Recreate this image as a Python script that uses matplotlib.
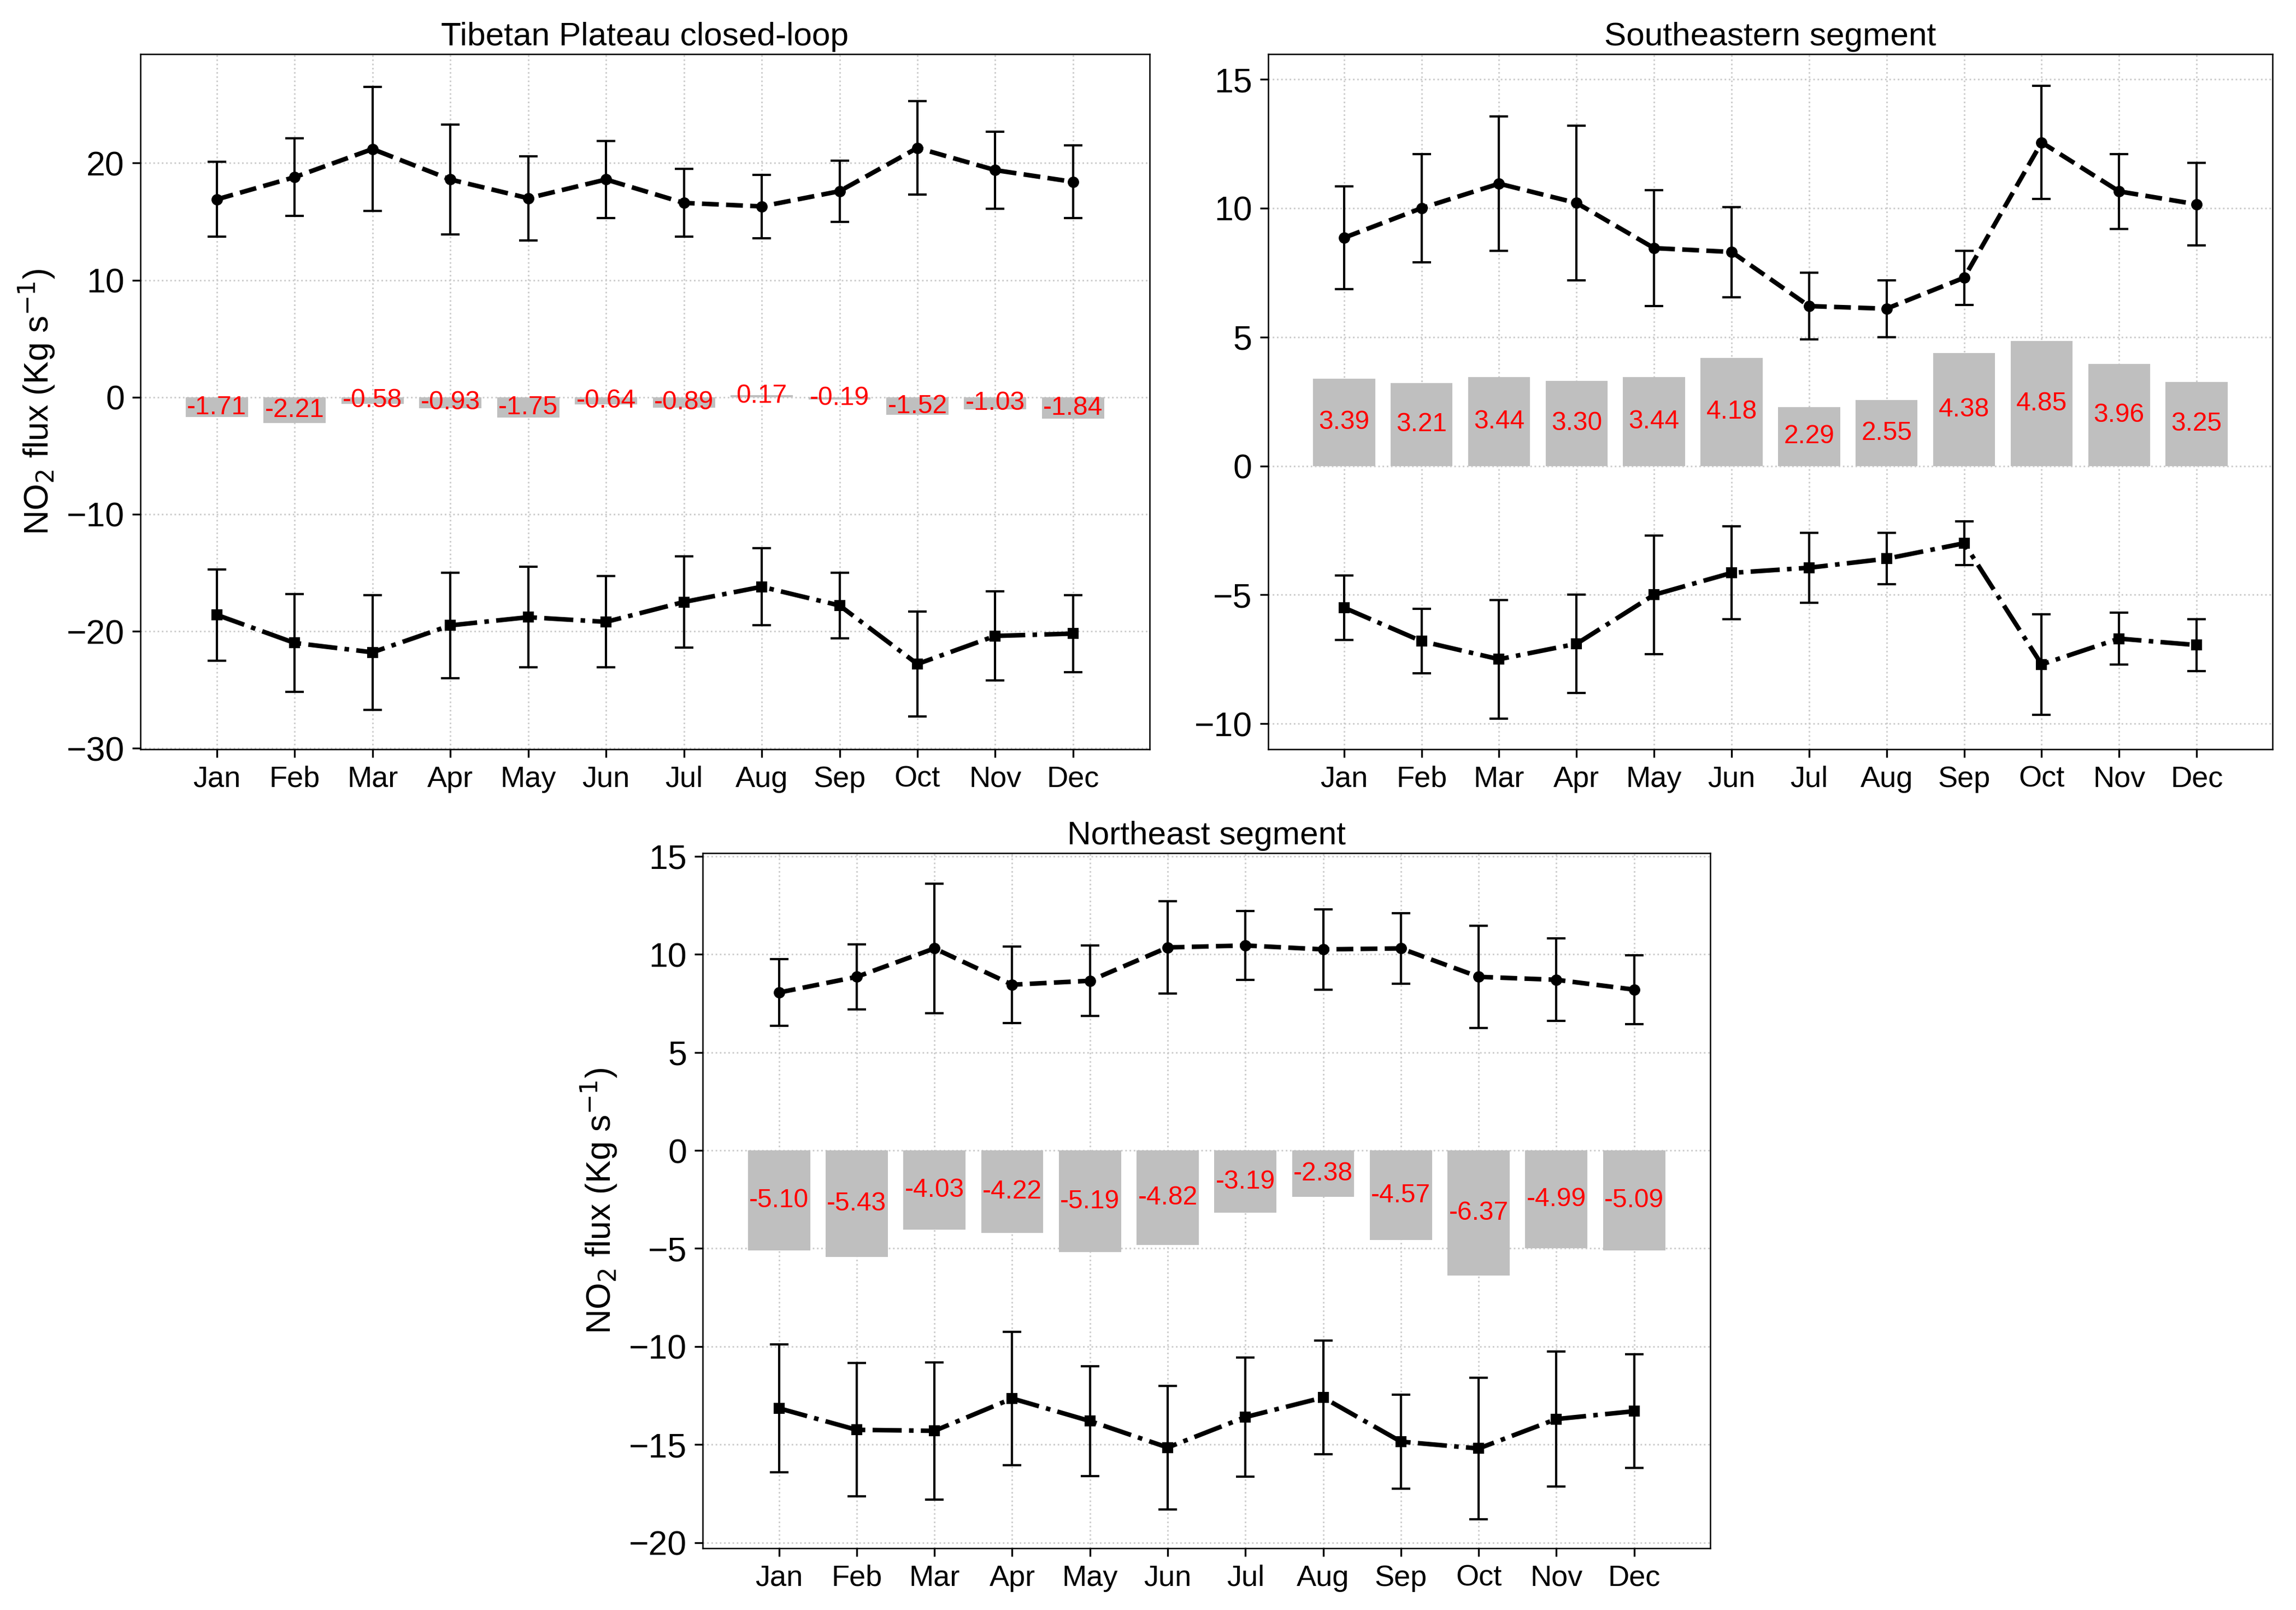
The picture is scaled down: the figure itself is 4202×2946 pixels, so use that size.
import numpy as np
import matplotlib.pyplot as plt

plt.rcParams['font.family'] = ['Liberation Sans', 'DejaVu Sans']

months = ['Jan', 'Feb', 'Mar', 'Apr', 'May', 'Jun', 'Jul', 'Aug', 'Sep', 'Oct', 'Nov', 'Dec']

# Tibetan Plateau closed-loop
tp_in = [16.9, 18.8, 21.2, 18.6, 17.0, 18.6, 16.6, 16.3, 17.6, 21.3, 19.4, 18.4]
tp_in_err = [3.2, 3.3, 5.3, 4.7, 3.6, 3.3, 2.9, 2.7, 2.6, 4.0, 3.3, 3.1]
tp_out = [-18.6, -21.0, -21.8, -19.5, -18.8, -19.2, -17.5, -16.2, -17.8, -22.8, -20.4, -20.2]
tp_out_err = [3.9, 4.2, 4.9, 4.5, 4.3, 3.9, 3.9, 3.3, 2.8, 4.5, 3.8, 3.3]
tp_net = [-1.71, -2.21, -0.58, -0.93, -1.75, -0.64, -0.89, 0.17, -0.19, -1.52, -1.03, -1.84]

# Southeastern segment
se_in = [8.85, 10.0, 10.95, 10.2, 8.45, 8.3, 6.2, 6.1, 7.3, 12.55, 10.65, 10.15]
se_in_err = [2.0, 2.1, 2.6, 3.0, 2.25, 1.75, 1.3, 1.1, 1.05, 2.2, 1.45, 1.6]
se_out = [-5.5, -6.8, -7.5, -6.9, -5.0, -4.15, -3.95, -3.6, -3.0, -7.7, -6.7, -6.95]
se_out_err = [1.25, 1.25, 2.3, 1.9, 2.3, 1.8, 1.35, 1.0, 0.85, 1.95, 1.0, 1.0]
se_net = [3.39, 3.21, 3.44, 3.30, 3.44, 4.18, 2.29, 2.55, 4.38, 4.85, 3.96, 3.25]

# Northeast segment
ne_in = [8.05, 8.85, 10.3, 8.45, 8.65, 10.35, 10.45, 10.25, 10.3, 8.85, 8.7, 8.2]
ne_in_err = [1.7, 1.65, 3.3, 1.95, 1.8, 2.35, 1.75, 2.05, 1.8, 2.6, 2.1, 1.75]
ne_out = [-13.15, -14.25, -14.3, -12.65, -13.8, -15.15, -13.6, -12.6, -14.85, -15.2, -13.7, -13.3]
ne_out_err = [3.25, 3.4, 3.5, 3.4, 2.8, 3.15, 3.05, 2.9, 2.4, 3.6, 3.45, 2.9]
ne_net = [-5.10, -5.43, -4.03, -4.22, -5.19, -4.82, -3.19, -2.38, -4.57, -6.37, -4.99, -5.09]


def draw(ax, title, fin, fin_err, fout, fout_err, net, ylim, yticks, ylabel):
    x = np.arange(1, 13)
    ax.grid(True, color='#cccccc', linestyle=':', linewidth=0.7, zorder=0)
    ax.bar(x, net, width=0.8, color='#bfbfbf', zorder=2)
    for xi, v in zip(x, net):
        ax.text(xi, v / 2, f'{v:.2f}', color='red', ha='center', va='center',
                fontsize=11.5, zorder=5)
    ax.errorbar(x, fin, yerr=fin_err, color='black', ls='--', lw=2, marker='o',
                ms=4, capsize=4, elinewidth=1, capthick=1, zorder=4)
    ax.errorbar(x, fout, yerr=fout_err, color='black', ls='-.', lw=2, marker='s',
                ms=4, capsize=4, elinewidth=1, capthick=1, zorder=4)
    ax.set_xlim(0.02, 12.98)
    ax.set_ylim(*ylim)
    ax.set_xticks(x)
    ax.set_xticklabels(months, fontsize=13)
    ax.set_yticks(yticks)
    ax.tick_params(axis='y', labelsize=15)
    ax.set_yticklabels([f'{t:g}'.replace('-', '\u2212') for t in yticks])
    ax.set_title(title, fontsize=14.5, pad=4)
    if ylabel:
        ax.set_ylabel(r'NO$_2$ flux (Kg s$^{-1}$)', fontsize=15)
    for s in ax.spines.values():
        s.set_linewidth(0.6)


fig = plt.figure(figsize=(4202 / 300, 2946 / 300), dpi=300)
ax1 = fig.add_axes([0.0612, 0.5345, 0.4394, 0.4318])
ax2 = fig.add_axes([0.5523, 0.5345, 0.4375, 0.4318])
ax3 = fig.add_axes([0.3061, 0.0382, 0.4388, 0.4318])

draw(ax1, 'Tibetan Plateau closed-loop', tp_in, tp_in_err, tp_out, tp_out_err, tp_net,
     (-30.1, 29.3), [-30, -20, -10, 0, 10, 20], True)
draw(ax2, 'Southeastern segment', se_in, se_in_err, se_out, se_out_err, se_net,
     (-11.0, 15.97), [-10, -5, 0, 5, 10, 15], False)
draw(ax3, 'Northeast segment', ne_in, ne_in_err, ne_out, ne_out_err, ne_net,
     (-20.3, 15.15), [-20, -15, -10, -5, 0, 5, 10, 15], True)

fig.savefig('out.png', dpi=300)
